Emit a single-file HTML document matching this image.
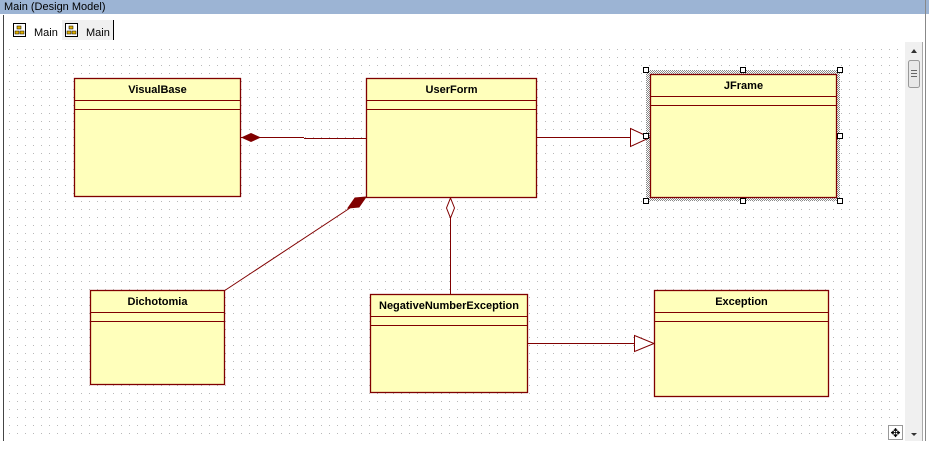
<!DOCTYPE html>
<html><head><meta charset="utf-8"><style>
html,body{margin:0;padding:0;width:929px;height:461px;overflow:hidden;background:#fff;font-family:"Liberation Sans",Tahoma,sans-serif;}
</style></head><body>
<svg width="929" height="461" xmlns="http://www.w3.org/2000/svg" font-family="Liberation Sans, sans-serif">
<defs>
<pattern id="grid" x="2" y="2" width="8" height="8" patternUnits="userSpaceOnUse"><rect x="7" y="7" width="1" height="1" fill="#b8b8b8"/></pattern>
<pattern id="hatch" width="2" height="2" patternUnits="userSpaceOnUse"><rect width="2" height="2" fill="#fff"/><rect width="1" height="1" fill="#888"/><rect x="1" y="1" width="1" height="1" fill="#888"/></pattern>
</defs>
<rect x="0" y="0" width="929" height="461" fill="#fff"/>
<rect x="0" y="0" width="929" height="14" fill="#9cb4d4"/>
<text x="4" y="10" font-size="11" fill="#000">Main (Design Model)</text>
<rect x="3" y="15" width="923" height="27" fill="#fff"/>
<line x1="3.5" y1="15" x2="3.5" y2="441" stroke="#444"/>
<rect x="62" y="20" width="52" height="20" fill="#f0f0f0"/>
<line x1="113.5" y1="20" x2="113.5" y2="40" stroke="#000"/>
<g fill="none" stroke="#000" stroke-width="1">
<rect x="13.5" y="23.5" width="12" height="13" fill="#fff"/>
<rect x="65.5" y="23.5" width="12" height="13" fill="#fff"/>
</g>
<rect x="17" y="26" width="4" height="3" fill="#e0b000" stroke="#000" stroke-width="0.5"/>
<rect x="15" y="31" width="4" height="3" fill="#e0b000" stroke="#000" stroke-width="0.5"/>
<rect x="20" y="31" width="4" height="3" fill="#e0b000" stroke="#000" stroke-width="0.5"/>
<rect x="69" y="26" width="4" height="3" fill="#e0b000" stroke="#000" stroke-width="0.5"/>
<rect x="67" y="31" width="4" height="3" fill="#e0b000" stroke="#000" stroke-width="0.5"/>
<rect x="72" y="31" width="4" height="3" fill="#e0b000" stroke="#000" stroke-width="0.5"/>
<text x="34" y="36" font-size="11">Main</text>
<text x="86" y="36" font-size="11">Main</text>
<rect x="4" y="42" width="902" height="399" fill="#fff"/>
<rect x="4" y="42" width="902" height="399" fill="url(#grid)"/>
<rect x="905" y="42" width="17" height="399" fill="#f0f0f0"/>
<line x1="922.5" y1="42" x2="922.5" y2="441" stroke="#aaa"/>
<line x1="925.5" y1="0" x2="925.5" y2="441" stroke="#888"/>
<polygon points="911,53 917,53 914,49" fill="#333"/>
<rect x="908.5" y="60.5" width="11" height="27" rx="2" fill="#e8e8e8" stroke="#999"/>
<line x1="911" y1="70.5" x2="917" y2="70.5" stroke="#666"/><line x1="911" y1="73.5" x2="917" y2="73.5" stroke="#666"/><line x1="911" y1="76.5" x2="917" y2="76.5" stroke="#666"/>
<polygon points="911,433 917,433 914,436" fill="#333"/>
<rect x="888.5" y="425.5" width="14" height="14" fill="#fff" stroke="#999"/>
<text x="895.5" y="437" font-size="12" text-anchor="middle">✥</text>

<g stroke="#800000" stroke-width="1" fill="none">
<line x1="240" y1="137.5" x2="304" y2="137.5"/><line x1="304" y1="138.5" x2="366" y2="138.5"/>
<line x1="536" y1="137.5" x2="630" y2="137.5"/>
<line x1="224" y1="291" x2="350" y2="208"/>
<line x1="450.5" y1="218" x2="450.5" y2="294"/>
<line x1="527" y1="343.5" x2="634" y2="343.5"/>
</g>
<polygon points="241,137.5 251,133 261,137.5 251,142" fill="#800000"/>
<polygon points="366,197 355,198 348,208 359,207" fill="#800000" stroke="#800000"/>
<polygon points="450.5,198 454.5,208 450.5,218 446.5,208" fill="#fff" stroke="#800000"/>

<rect x="646" y="70" width="194" height="131" fill="url(#hatch)"/>
<g fill="#ffffbb" stroke="#800000" stroke-width="1.3">
<rect x="74.5" y="78.5" width="166" height="118"/>
<rect x="366.5" y="78.5" width="170" height="119"/>
<rect x="650.5" y="74.5" width="186" height="123"/>
<rect x="90.5" y="290.5" width="134" height="94"/>
<rect x="370.5" y="294.5" width="157" height="98"/>
<rect x="654.5" y="290.5" width="174" height="106"/>
</g>
<g stroke="#800000" stroke-width="1">
<line x1="74" y1="100.5" x2="241" y2="100.5"/><line x1="74" y1="109.5" x2="241" y2="109.5"/>
<line x1="366" y1="100.5" x2="537" y2="100.5"/><line x1="366" y1="109.5" x2="537" y2="109.5"/>
<line x1="650" y1="96.5" x2="837" y2="96.5"/><line x1="650" y1="105.5" x2="837" y2="105.5"/>
<line x1="90" y1="312.5" x2="225" y2="312.5"/><line x1="90" y1="321.5" x2="225" y2="321.5"/>
<line x1="370" y1="316.5" x2="528" y2="316.5"/><line x1="370" y1="325.5" x2="528" y2="325.5"/>
<line x1="654" y1="312.5" x2="829" y2="312.5"/><line x1="654" y1="321.5" x2="829" y2="321.5"/>
</g>
<polygon points="630.5,128.5 650,137.5 630.5,146.5" fill="#fff" stroke="#800000"/>
<polygon points="634.5,335.5 654,343.5 634.5,351.5" fill="#fff" stroke="#800000"/>
<g fill="#fff" stroke="#000">
<rect x="643.5" y="67.5" width="5" height="5"/><rect x="740.5" y="67.5" width="5" height="5"/><rect x="837.5" y="67.5" width="5" height="5"/>
<rect x="643.5" y="133.5" width="5" height="5"/><rect x="837.5" y="133.5" width="5" height="5"/>
<rect x="643.5" y="198.5" width="5" height="5"/><rect x="740.5" y="198.5" width="5" height="5"/><rect x="837.5" y="198.5" width="5" height="5"/>
</g>
<g font-size="11" font-weight="bold" fill="#000" text-anchor="middle">
<text x="157.5" y="93">VisualBase</text>
<text x="451.5" y="93">UserForm</text>
<text x="743.5" y="89">JFrame</text>
<text x="157.5" y="305">Dichotomia</text>
<text x="449" y="309">NegativeNumberException</text>
<text x="741.5" y="305">Exception</text>
</g>
</svg>
</body></html>
